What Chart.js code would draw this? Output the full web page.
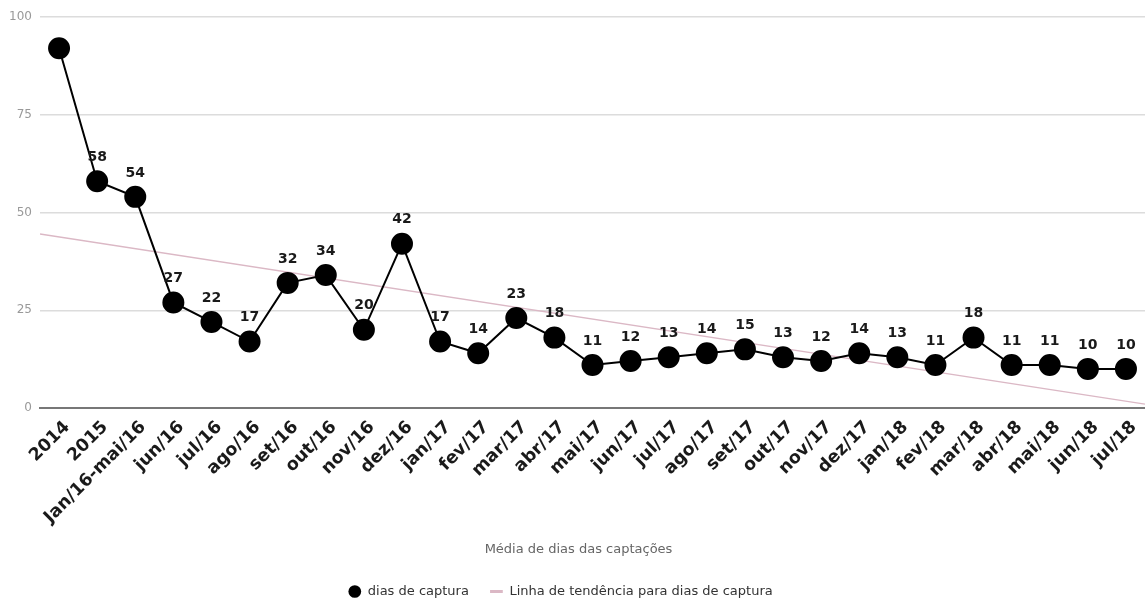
<!DOCTYPE html>
<html>
<head>
<meta charset="utf-8">
<script src="https://cdn.jsdelivr.net/npm/chart.js@4"></script>
<style>
  html, body { margin: 0; padding: 0; background: #fff; overflow: hidden; }
  /* canvas um pouco mais largo à esquerda para centrar a legenda como no original */
  #wrap { width: 1169px; height: 608px; margin-left: -24px; }
</style>
</head>
<body>
<div id="wrap"><canvas id="chart"></canvas></div>
<script>
const categories = ["2014", "2015", "Jan/16-mai/16", "jun/16", "jul/16", "ago/16", "set/16", "out/16", "nov/16", "dez/16",
  "jan/17", "fev/17", "mar/17", "abr/17", "mai/17", "jun/17", "jul/17", "ago/17", "set/17", "out/17", "nov/17", "dez/17",
  "jan/18", "fev/18", "mar/18", "abr/18", "mai/18", "jun/18", "jul/18"];
const diasCaptura = [92, 58, 54, 27, 22, 17, 32, 34, 20, 42, 17, 14, 23, 18, 11, 12, 13, 14, 15, 13, 12, 14, 13, 11, 18, 11, 11, 10, 10];
const trendX = [-0.5, 28.5];
const trendY = [44.5, 1];
const yTicks = [0, 25, 50, 75, 100];
const axisTitle = "Média de dias das captações";

const TREND_COLOR = "#dbb8c5";

// rótulos acima dos pontos (o primeiro não aparece no original) + título do eixo
const labelPlugin = {
  id: "pointLabels",
  afterDatasetsDraw(chart) {
    const ctx = chart.ctx;
    const meta = chart.getDatasetMeta(0);
    ctx.save();
    ctx.font = "bold 14px 'DejaVu Sans'";
    ctx.fillStyle = "#1a1a1a";
    ctx.textAlign = "center";
    ctx.textBaseline = "middle";
    meta.data.forEach((pt, i) => {
      if (i === 0) return;
      ctx.fillText(String(diasCaptura[i]), pt.x, pt.y - 24);
    });
    ctx.restore();
  },
  afterDraw(chart) {
    const ctx = chart.ctx;
    ctx.save();
    ctx.font = "13px 'DejaVu Sans'";
    ctx.fillStyle = "#666";
    ctx.textAlign = "center";
    ctx.textBaseline = "middle";
    ctx.fillText(axisTitle, chart.width / 2 + 18, chart.scales.x.bottom - 14);
    ctx.restore();
  }
};

new Chart(document.getElementById("chart"), {
  type: "line",
  data: {
    labels: categories,
    datasets: [
      {
        label: "dias de captura",
        data: diasCaptura,
        borderColor: "#000",
        backgroundColor: "#000",
        borderWidth: 2,
        pointRadius: 10,
        pointHoverRadius: 10,
        pointStyle: "circle",
        tension: 0,
        xAxisID: "x",
        order: 1
      },
      {
        label: "Linha de tendência para dias de captura",
        data: trendX.map((x, i) => ({ x: x, y: trendY[i] })),
        borderColor: TREND_COLOR,
        backgroundColor: TREND_COLOR,
        borderWidth: 1.3,
        pointRadius: 0,
        pointStyle: "line",
        xAxisID: "xt",
        order: 2
      }
    ]
  },
  options: {
    responsive: true,
    maintainAspectRatio: false,
    animation: false,
    layout: { autoPadding: false, padding: { top: 17, right: 0, left: 0, bottom: 0 } },
    scales: {
      x: {
        type: "category",
        offset: true,
        grid: { display: false, drawTicks: false },
        border: { color: "#777", width: 2 },
        ticks: {
          color: "#1a1a1a",
          font: { family: "'DejaVu Sans'", size: 17.5, weight: "bold" },
          maxRotation: 45,
          minRotation: 45,
          autoSkip: false,
          padding: 9,
          labelOffset: 8
        },
        afterFit(axis) {
          axis.height = 156;
          axis.paddingLeft = 0;
          axis.paddingRight = 0;
        }
      },
      xt: {
        type: "linear",
        display: false,
        min: -0.5,
        max: 28.5
      },
      y: {
        min: 0,
        max: 100,
        afterBuildTicks(axis) {
          axis.ticks = yTicks.map(v => ({ value: v }));
        },
        afterFit(axis) { axis.width = 64; },
        grid: { color: "#dcdcdc", drawTicks: false, lineWidth: 1.5 },
        border: { display: false },
        ticks: {
          color: "#999",
          font: { family: "'DejaVu Sans'", size: 12 },
          padding: 8
        }
      }
    },
    plugins: {
      legend: {
        position: "bottom",
        labels: {
          usePointStyle: true,
          color: "#333",
          font: { family: "'DejaVu Sans'", size: 13 },
          boxWidth: 13,
          boxHeight: 9,
          padding: 21,
          generateLabels(chart) {
            const items = Chart.defaults.plugins.legend.labels.generateLabels(chart);
            items.forEach((item) => {
              if (item.datasetIndex === 1) {
                item.lineWidth = 3;
                item.strokeStyle = TREND_COLOR;
              } else {
                item.lineWidth = 0;
                item.fillStyle = "#000";
              }
            });
            return items;
          }
        }
      },
      tooltip: { enabled: false }
    }
  },
  plugins: [labelPlugin]
});
</script>
</body>
</html>
